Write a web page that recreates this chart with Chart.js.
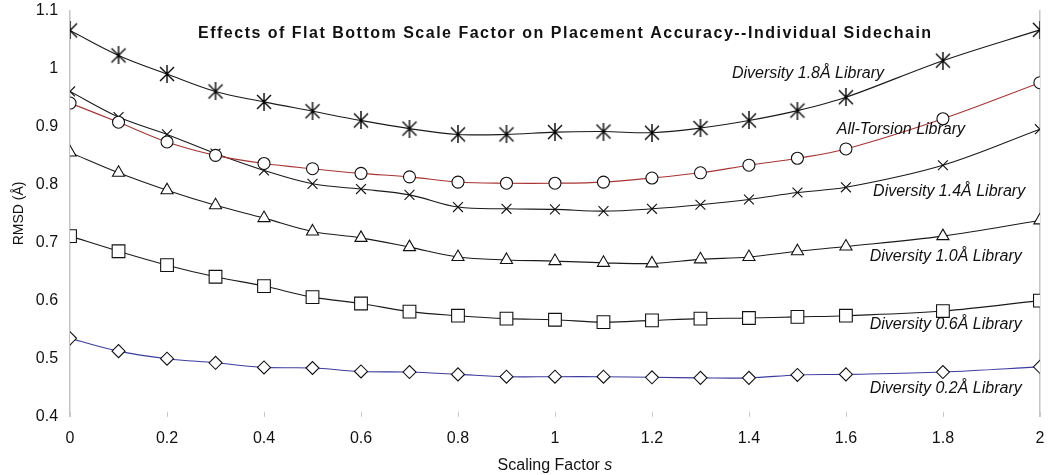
<!DOCTYPE html>
<html>
<head>
<meta charset="utf-8">
<script src="https://cdn.jsdelivr.net/npm/chart.js@4.4.1/dist/chart.umd.min.js"></script>
<style>
  html, body { margin: 0; padding: 0; background: #fff; }
</style>
</head>
<body>
<canvas id="chart" width="1050" height="475"></canvas>
<script>
// scaling factor s (x values)
const scaleFactor = [0, 0.1, 0.2, 0.3, 0.4, 0.5, 0.6, 0.7, 0.8, 0.9, 1.0, 1.1, 1.2, 1.3, 1.4, 1.5, 1.6, 1.8, 2.0];

// RMSD values per library
const div18 = [1.065, 1.022, 0.990, 0.960, 0.942, 0.926, 0.910, 0.896, 0.886, 0.886, 0.890, 0.891, 0.889, 0.897, 0.910, 0.927, 0.950, 1.013, 1.066];
const allTorsion = [0.940, 0.907, 0.873, 0.850, 0.836, 0.827, 0.819, 0.813, 0.804, 0.802, 0.802, 0.804, 0.811, 0.820, 0.833, 0.845, 0.861, 0.913, 0.975];
const div14 = [0.960, 0.916, 0.886, 0.853, 0.824, 0.801, 0.792, 0.782, 0.761, 0.758, 0.757, 0.754, 0.758, 0.765, 0.774, 0.786, 0.795, 0.833, 0.895];
const div10 = [0.855, 0.820, 0.790, 0.764, 0.742, 0.719, 0.708, 0.692, 0.675, 0.670, 0.668, 0.665, 0.664, 0.671, 0.675, 0.685, 0.693, 0.711, 0.738];
const div06 = [0.711, 0.685, 0.661, 0.641, 0.625, 0.606, 0.595, 0.581, 0.574, 0.569, 0.567, 0.563, 0.566, 0.569, 0.570, 0.572, 0.574, 0.582, 0.600];
const div02 = [0.535, 0.513, 0.500, 0.493, 0.485, 0.484, 0.478, 0.477, 0.473, 0.469, 0.469, 0.469, 0.468, 0.467, 0.467, 0.472, 0.473, 0.477, 0.486];

const seriesNames = ["Diversity 1.8Å Library", "All-Torsion Library", "Diversity 1.4Å Library",
                     "Diversity 1.0Å Library", "Diversity 0.6Å Library", "Diversity 0.2Å Library"];

const chartTitle = "Effects of Flat Bottom Scale Factor on Placement Accuracy--Individual Sidechain";

Chart.defaults.font.family = "'Liberation Sans', Arial, sans-serif";
Chart.defaults.color = "#111";

// asterisk marker (X plus vertical bar)
function makeStar(size) {
  const c = document.createElement("canvas");
  c.width = size; c.height = size;
  const g = c.getContext("2d");
  const m = size / 2;
  g.strokeStyle = "#000";
  g.lineWidth = 1.4;
  g.beginPath();
  g.moveTo(m, 0); g.lineTo(m, size);
  g.moveTo(2, 2); g.lineTo(size - 2, size - 2);
  g.moveTo(size - 2, 2); g.lineTo(2, size - 2);
  g.stroke();
  return c;
}
const starImg = makeStar(18);

function pts(vals) {
  return vals.map((v, i) => ({ x: scaleFactor[i], y: v }));
}

function series(idx, vals, lineColor, style, radius) {
  return {
    label: seriesNames[idx],
    data: pts(vals),
    borderColor: lineColor,
    borderWidth: 1.1,
    pointStyle: style,
    pointRadius: radius,
    pointBorderColor: "#111",
    pointBackgroundColor: "#fff",
    pointBorderWidth: 1.1,
    tension: 0.35,
    fill: false
  };
}

// label anchor points in data units
const labelAnchors = [
  [1.365, 0.990], [1.581, 0.894], [1.656, 0.787],
  [1.649, 0.675], [1.649, 0.558], [1.649, 0.448]
];

const fmt = v => String(Number(v.toFixed(1)));

const annotate = {
  id: "annotate",
  beforeDatasetsDraw(chart) {
    const { ctx, chartArea, scales: { x } } = chart;
    ctx.save();
    ctx.strokeStyle = "#c8c8c8";
    ctx.lineWidth = 1;
    x.ticks.forEach(t => {
      const px = Math.round(x.getPixelForValue(t.value)) + 0.5;
      ctx.beginPath();
      ctx.moveTo(px, chartArea.bottom - 5);
      ctx.lineTo(px, chartArea.bottom);
      ctx.stroke();
    });
    ctx.restore();
  },
  afterDatasetsDraw(chart) {
    const { ctx, chartArea, scales: { x, y } } = chart;
    ctx.save();
    ctx.fillStyle = "#111";

    // title
    ctx.font = "bold 16px 'Liberation Sans', Arial, sans-serif";
    ctx.letterSpacing = "1.5px";
    ctx.textAlign = "left";
    ctx.textBaseline = "middle";
    ctx.fillText(chartTitle, 198, 34);
    ctx.letterSpacing = "0px";

    // series labels
    ctx.font = "italic 16px 'Liberation Sans', Arial, sans-serif";
    labelAnchors.forEach((a, i) => {
      ctx.fillText(seriesNames[i], x.getPixelForValue(a[0]), y.getPixelForValue(a[1]));
    });

    // x axis title with italic s
    const cx = (chartArea.left + chartArea.right) / 2;
    ctx.font = "16px 'Liberation Sans', Arial, sans-serif";
    const w1 = ctx.measureText("Scaling Factor ").width;
    ctx.font = "italic 16px 'Liberation Sans', Arial, sans-serif";
    const w2 = ctx.measureText("s").width;
    const sx = cx - (w1 + w2) / 2;
    ctx.font = "16px 'Liberation Sans', Arial, sans-serif";
    ctx.fillText("Scaling Factor ", sx, 466);
    ctx.font = "italic 16px 'Liberation Sans', Arial, sans-serif";
    ctx.fillText("s", sx + w1, 466);
    ctx.restore();
  }
};

new Chart(document.getElementById("chart"), {
  type: "line",
  data: {
    datasets: [
      series(0, div18, "#1a1a1a", starImg, 8),
      series(1, allTorsion, "#a83434", "circle", 6),
      series(2, div14, "#1a1a1a", "crossRot", 7),
      series(3, div10, "#1a1a1a", "triangle", 7),
      series(4, div06, "#1a1a1a", "rect", 9),
      series(5, div02, "#3c3ca0", "rectRot", 6.5)
    ]
  },
  options: {
    responsive: false,
    animation: false,
    layout: { padding: { left: 11, right: 0, top: 0, bottom: 15 } },
    plugins: {
      legend: { display: false },
      tooltip: { enabled: false }
    },
    scales: {
      x: {
        type: "linear",
        min: 0,
        max: 2,
        ticks: { stepSize: 0.2, font: { size: 16 }, padding: 12, callback: v => fmt(v) },
        grid: {
          drawTicks: false,
          lineWidth: 1.5,
          color: ctx => (ctx.tick && (ctx.tick.value === 0 || ctx.tick.value === 2)) ? "#c4c4c4" : "rgba(0,0,0,0)"
        },
        border: { display: false },
        afterFit: s => { s.paddingRight = 10; }
      },
      y: {
        min: 0.4,
        max: 1.1,
        ticks: { stepSize: 0.1, font: { size: 16 }, padding: 4, callback: v => fmt(v) },
        grid: { display: false },
        border: { display: false },
        title: { display: true, text: "RMSD (Å)", font: { size: 14 }, padding: { top: 0, bottom: 4 } },
        afterFit: s => { s.paddingTop = 8; }
      }
    }
  },
  plugins: [annotate]
});
</script>
</body>
</html>
